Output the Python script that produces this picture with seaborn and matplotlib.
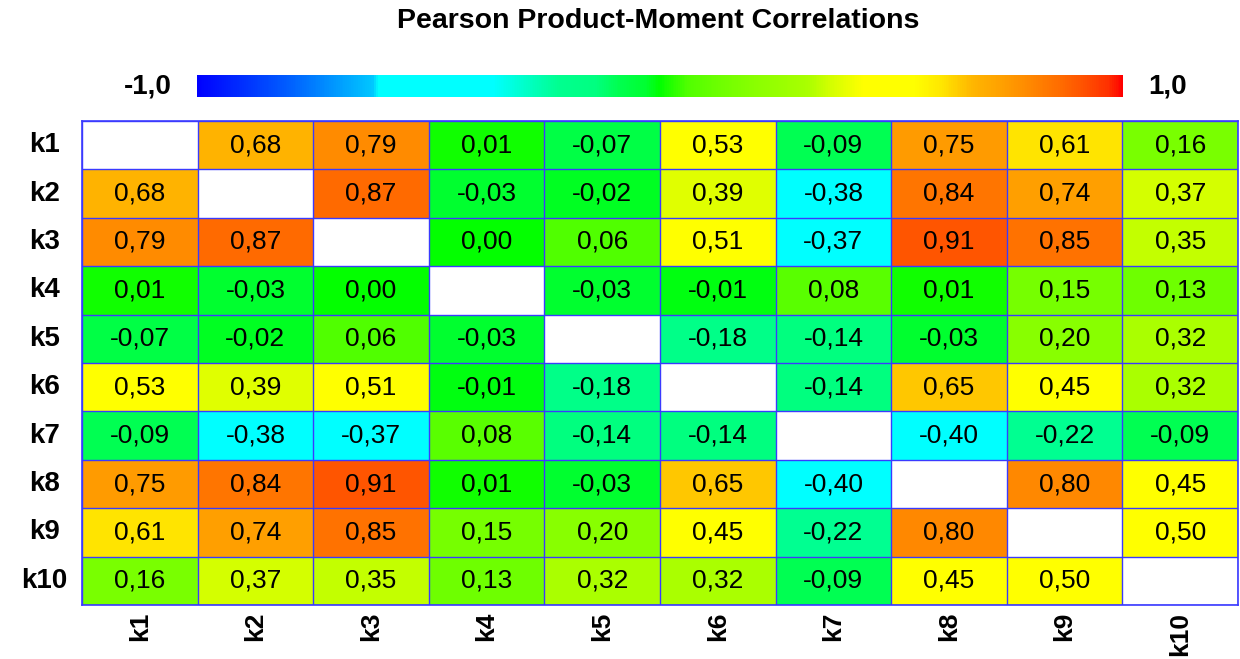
import numpy as np
import pandas as pd
import matplotlib
matplotlib.use("Agg")
import matplotlib.pyplot as plt
import seaborn as sns
from matplotlib.colors import LinearSegmentedColormap

labels = ["k1", "k2", "k3", "k4", "k5", "k6", "k7", "k8", "k9", "k10"]
r_k1 = [np.nan, 0.68, 0.79, 0.01, -0.07, 0.53, -0.09, 0.75, 0.61, 0.16]
r_k2 = [0.68, np.nan, 0.87, -0.03, -0.02, 0.39, -0.38, 0.84, 0.74, 0.37]
r_k3 = [0.79, 0.87, np.nan, 0.00, 0.06, 0.51, -0.37, 0.91, 0.85, 0.35]
r_k4 = [0.01, -0.03, 0.00, np.nan, -0.03, -0.01, 0.08, 0.01, 0.15, 0.13]
r_k5 = [-0.07, -0.02, 0.06, -0.03, np.nan, -0.18, -0.14, -0.03, 0.20, 0.32]
r_k6 = [0.53, 0.39, 0.51, -0.01, -0.18, np.nan, -0.14, 0.65, 0.45, 0.32]
r_k7 = [-0.09, -0.38, -0.37, 0.08, -0.14, -0.14, np.nan, -0.40, -0.22, -0.09]
r_k8 = [0.75, 0.84, 0.91, 0.01, -0.03, 0.65, -0.40, np.nan, 0.80, 0.45]
r_k9 = [0.61, 0.74, 0.85, 0.15, 0.20, 0.45, -0.22, 0.80, np.nan, 0.50]
r_k10 = [0.16, 0.37, 0.35, 0.13, 0.32, 0.32, -0.09, 0.45, 0.50, np.nan]
rows = [r_k1, r_k2, r_k3, r_k4, r_k5, r_k6, r_k7, r_k8, r_k9, r_k10]

title = "Pearson Product-Moment Correlations"
vmin, vmax = -1.0, 1.0

# colormap stops (value, colour)
stops = [(-1.00, "#0000ff"), (-0.80, "#0060ff"), (-0.62, "#00c8ff"), (-0.61, "#00ffff"),
         (-0.36, "#00ffff"), (-0.22, "#00ff90"), (-0.14, "#00ff80"), (-0.09, "#00ff50"),
         (-0.03, "#00ff30"), (0.00, "#00ff00"), (0.01, "#10ff00"), (0.06, "#50ff00"),
         (0.13, "#6eff00"), (0.20, "#88ff00"), (0.32, "#aaff00"), (0.37, "#d4ff00"),
         (0.44, "#ffff00"), (0.55, "#ffff00"), (0.61, "#ffe600"), (0.65, "#ffc800"),
         (0.68, "#ffb400"), (0.74, "#ffa000"), (0.80, "#ff8800"), (0.87, "#ff6a00"),
         (0.91, "#ff5500"), (0.97, "#ff3000"), (1.00, "#ff0000")]
cmap = LinearSegmentedColormap.from_list(
    "corr", [((v - vmin) / (vmax - vmin), c) for v, c in stops], N=512)
cmap.set_bad("white")

df = pd.DataFrame(rows, index=labels, columns=labels)
annot = df.map(lambda v: "" if pd.isna(v) else f"{v:.2f}".replace(".", ","))

sns.set_theme(style="white")
plt.rcParams["font.family"] = ["Liberation Sans", "DejaVu Sans"]
plt.rcParams["text.color"] = "black"
plt.rcParams["xtick.color"] = "black"
plt.rcParams["ytick.color"] = "black"

fig = plt.figure(figsize=(12.4, 6.59), dpi=100)
W, H = 1240, 659
ax = fig.add_axes([82 / W, 1 - 605 / H, 1156 / W, 484 / H])
cax = fig.add_axes([197 / W, 1 - 97 / H, 926 / W, 22 / H])

grid_col = "#3a3aff"
sns.heatmap(df, ax=ax, cmap=cmap, vmin=vmin, vmax=vmax, annot=annot, fmt="",
            annot_kws={"fontsize": 19, "color": "black"},
            cbar_ax=cax, cbar_kws={"orientation": "horizontal"},
            linewidths=0, square=False)

n = len(labels)
for i in range(n + 1):
    ax.axhline(i, color=grid_col, lw=1.0, zorder=3)
    ax.axvline(i, color=grid_col, lw=1.0, zorder=3)
for s in ax.spines.values():
    s.set_visible(True)
    s.set_color(grid_col)
    s.set_linewidth(1.2)

ax.set_xticklabels(labels, rotation=90, fontsize=19, fontweight="bold", color="black")
ax.set_yticklabels(labels, rotation=0, fontsize=20, fontweight="bold", color="black")
for t in ax.get_yticklabels():
    t.set_horizontalalignment("center")
ax.tick_params(axis="x", length=0, pad=5)
ax.tick_params(axis="y", length=0, pad=27)
ax.set_xlabel("")
ax.set_ylabel("")

cax.set_xticks([])
cax.set_yticks([])
for s in cax.spines.values():
    s.set_visible(False)

fig.text(172 / W, 1 - 86 / H, "-1,0", ha="right", va="center", fontsize=20, fontweight="bold", color="black")
fig.text(1148 / W, 1 - 86 / H, "1,0", ha="left", va="center", fontsize=20, fontweight="bold", color="black")
fig.text(658 / W, 1 - 21 / H, title, ha="center", va="center", fontsize=20.5, fontweight="bold", color="black")

fig.savefig("out.png", dpi=100, facecolor="white")
